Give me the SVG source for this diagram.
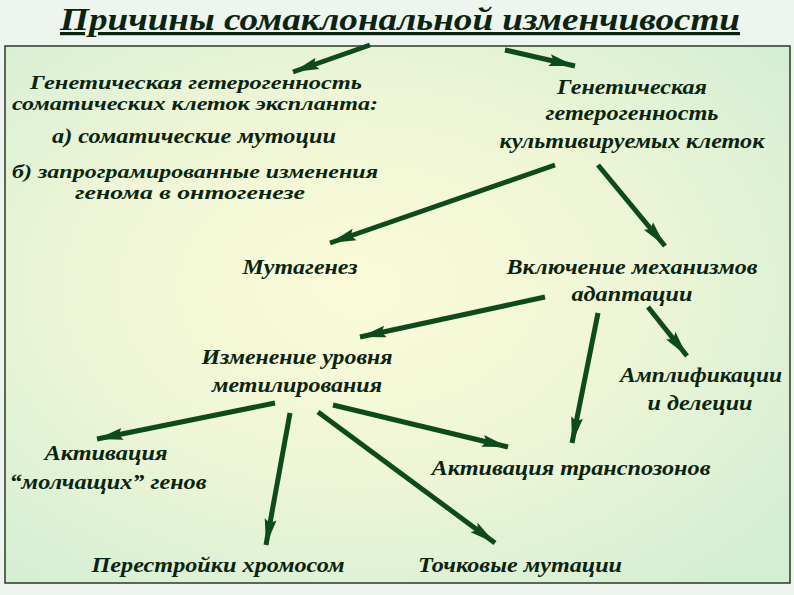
<svg xmlns="http://www.w3.org/2000/svg" width="794" height="595" viewBox="0 0 794 595">
<defs>
<radialGradient id="bg" cx="0.45" cy="0.45" r="0.7">
<stop offset="0" stop-color="#fbfbd8"/><stop offset="0.5" stop-color="#eef6d6"/><stop offset="1" stop-color="#d4eed4"/>
</radialGradient>
<marker id="ah" markerUnits="userSpaceOnUse" markerWidth="28" markerHeight="14" refX="26" refY="7" orient="auto">
<path d="M0,1 L26,7 L0,13 L4,7 Z" fill="#0d4a1c"/>
</marker>
<style>
text{font-family:"Liberation Serif","DejaVu Serif",serif;font-style:italic;font-weight:bold;font-size:21px;fill:#0a2410;text-anchor:middle}
.s{font-size:18px}
.c line{stroke:#0d4a1c;stroke-width:5;marker-end:url(#ah)}
</style>
</defs>
<rect width="794" height="595" fill="#eef4ee"/>
<rect x="5" y="46" width="785" height="537" fill="url(#bg)" stroke="#2a3a2a" stroke-width="1.5"/>
<g id="title"><text x="400" y="30" textLength="680" lengthAdjust="spacingAndGlyphs" style="font-size:32px;text-decoration:underline">Причины сомаклональной изменчивости</text></g>
<g class="c" id="connectors">
<line x1="370" y1="45" x2="293" y2="72"/>
<line x1="505" y1="50" x2="575" y2="66"/>
<line x1="555" y1="165" x2="330" y2="243"/>
<line x1="598" y1="165" x2="665" y2="246"/>
<line x1="545" y1="297" x2="360" y2="337"/>
<line x1="598" y1="313" x2="572" y2="443"/>
<line x1="648" y1="307" x2="687" y2="356"/>
<line x1="275" y1="403" x2="97" y2="439"/>
<line x1="290" y1="413" x2="266" y2="545"/>
<line x1="333" y1="405" x2="508" y2="447"/>
<line x1="318" y1="412" x2="495" y2="543"/>
</g>
<g id="n1"><text class="s" x="196" y="89" textLength="332" lengthAdjust="spacingAndGlyphs">Генетическая гетерогенность</text><text class="s" x="195" y="110" textLength="366" lengthAdjust="spacingAndGlyphs">соматических клеток экспланта:</text><text x="194" y="143" textLength="284" lengthAdjust="spacingAndGlyphs">а) соматические мутоции</text><text class="s" x="195" y="178" textLength="366" lengthAdjust="spacingAndGlyphs">б) запрограмированные изменения</text><text class="s" x="190" y="199" textLength="230" lengthAdjust="spacingAndGlyphs">генома в онтогенезе</text></g>
<g id="n2"><text x="632" y="94" textLength="150" lengthAdjust="spacingAndGlyphs">Генетическая</text><text x="632" y="120" textLength="173" lengthAdjust="spacingAndGlyphs">гетерогенность</text><text x="632" y="148" textLength="265" lengthAdjust="spacingAndGlyphs">культивируемых клеток</text></g>
<g id="n3"><text x="300" y="274" textLength="115" lengthAdjust="spacingAndGlyphs">Мутагенез</text></g>
<g id="n4"><text x="632" y="274" textLength="251" lengthAdjust="spacingAndGlyphs">Включение механизмов</text><text x="632" y="301" textLength="121" lengthAdjust="spacingAndGlyphs">адаптации</text></g>
<g id="n5"><text x="297" y="364" textLength="191" lengthAdjust="spacingAndGlyphs">Изменение уровня</text><text x="297" y="392" textLength="170" lengthAdjust="spacingAndGlyphs">метилирования</text></g>
<g id="n6"><text x="701" y="382" textLength="162" lengthAdjust="spacingAndGlyphs">Амплификации</text><text x="700" y="410" textLength="105" lengthAdjust="spacingAndGlyphs">и делеции</text></g>
<g id="n7"><text x="106" y="460" textLength="123" lengthAdjust="spacingAndGlyphs">Активация</text><text x="108" y="489" textLength="197" lengthAdjust="spacingAndGlyphs">“молчащих” генов</text></g>
<g id="n8"><text x="571" y="475" textLength="279" lengthAdjust="spacingAndGlyphs">Активация транспозонов</text></g>
<g id="n9"><text x="218" y="572" textLength="253" lengthAdjust="spacingAndGlyphs">Перестройки хромосом</text></g>
<g id="n10"><text x="520" y="572" textLength="204" lengthAdjust="spacingAndGlyphs">Точковые мутации</text></g>
</svg>
